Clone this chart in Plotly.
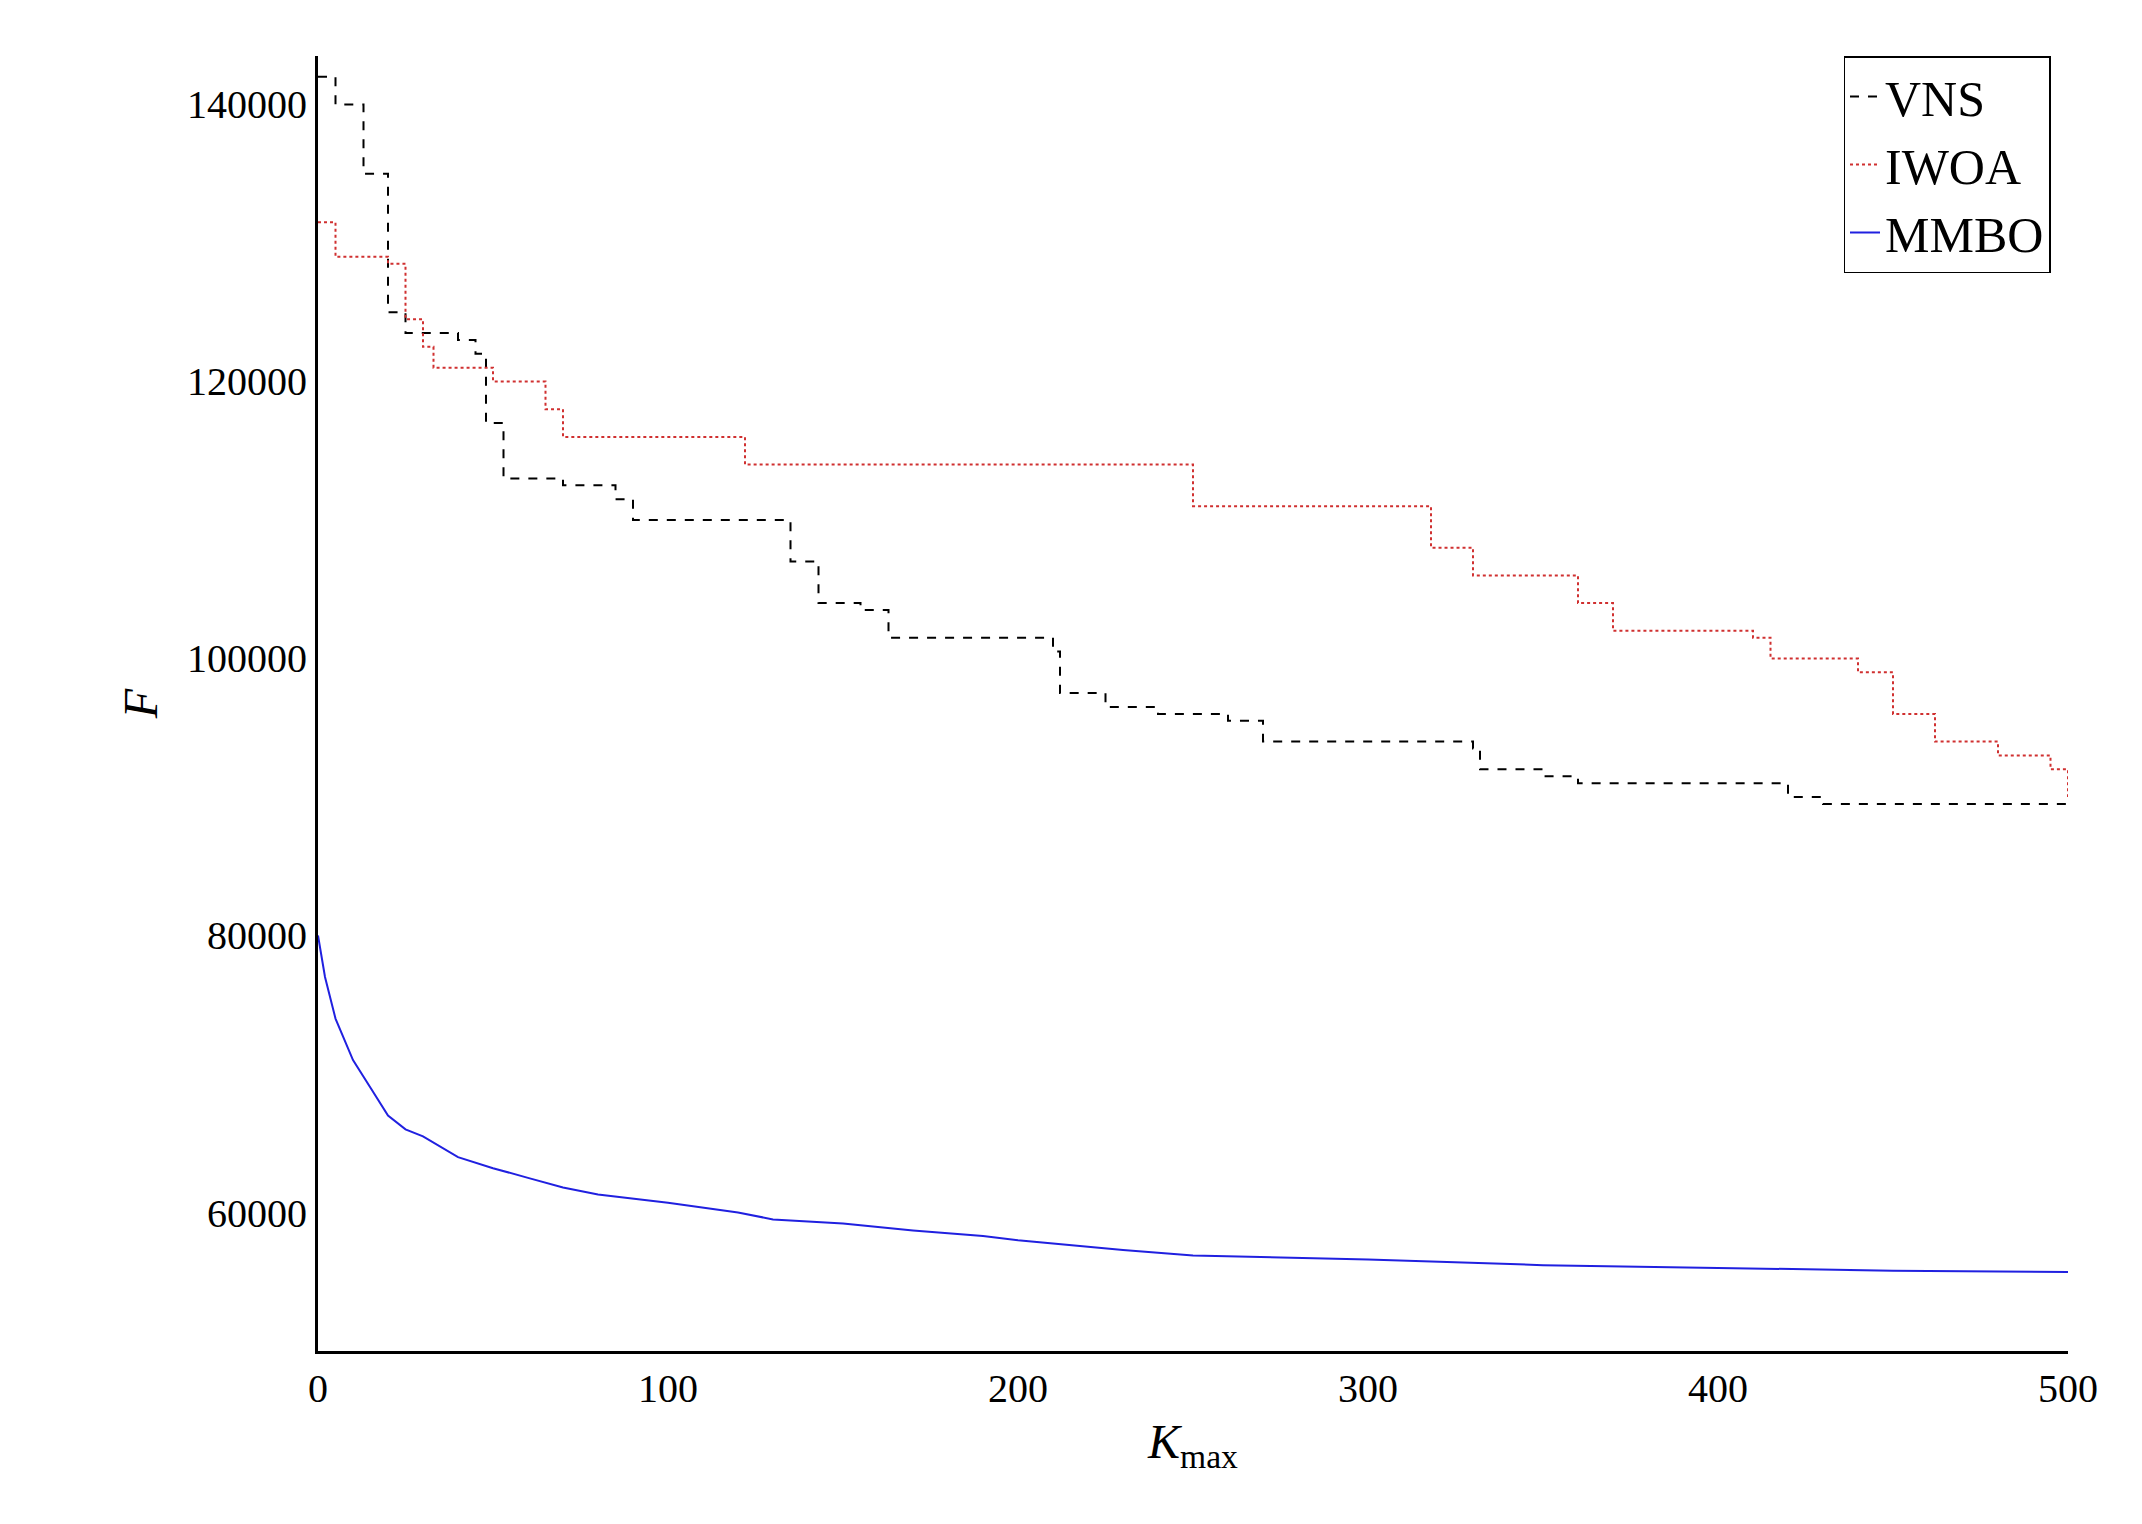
import plotly.graph_objects as go

# VNS (step curve)
vns_k = [0, 5, 13, 20, 25, 40, 45, 48, 53, 70, 85, 90, 130, 135, 143, 155, 163, 200, 210, 212,
         225, 240, 260, 270, 320, 330, 332, 350, 360, 415, 420, 430, 500]
vns_f = [142000, 140000, 135000, 125000, 123500, 123000, 122000, 117000, 113000, 112500, 111500,
         110000, 110000, 107000, 104000, 103500, 101500, 101500, 100500, 97500, 96500, 96000,
         95500, 94000, 94000, 93500, 92000, 91500, 91000, 91000, 90000, 89500, 89500]

# IWOA (step curve)
iwoa_k = [0, 5, 20, 25, 30, 33, 45, 50, 60, 65, 70, 120, 122, 247, 250, 315, 318, 330, 350, 360,
          370, 400, 410, 415, 435, 440, 450, 462, 480, 495, 500]
iwoa_f = [131500, 129000, 128500, 124500, 122500, 121000, 121000, 120000, 120000, 118000, 116000,
          116000, 114000, 114000, 111000, 111000, 108000, 106000, 106000, 104000, 102000, 102000,
          101500, 100000, 100000, 99000, 96000, 94000, 93000, 92000, 90000]

# MMBO
mmbo_k = [0, 2, 5, 10, 15, 20, 25, 30, 40, 50, 60, 70, 80, 100, 120, 130, 150, 170, 190, 200,
          230, 250, 300, 350, 400, 450, 500]
mmbo_f = [80000, 77000, 74000, 71000, 69000, 67000, 66000, 65500, 64000, 63200, 62500, 61800,
          61300, 60700, 60000, 59500, 59200, 58700, 58300, 58000, 57300, 56900, 56600, 56200,
          56000, 55800, 55700]

y_ticks = [60000, 80000, 100000, 120000, 140000]

fig = go.Figure()
fig.add_trace(go.Scatter(x=vns_k, y=vns_f, name="VNS", mode="lines", line_shape="hv",
                         line=dict(color="black", dash="dash", width=2)))
fig.add_trace(go.Scatter(x=iwoa_k, y=iwoa_f, name="IWOA", mode="lines", line_shape="hv",
                         line=dict(color="#d03030", dash="dot", width=2)))
fig.add_trace(go.Scatter(x=mmbo_k, y=mmbo_f, name="MMBO", mode="lines",
                         line=dict(color="#2020e0", width=2)))

fig.update_layout(
    width=2142, height=1524,
    paper_bgcolor="white", plot_bgcolor="white",
    margin=dict(l=310, r=82, t=48, b=181),
    font=dict(family="Liberation Serif", size=40, color="black"),
    legend=dict(x=0.99, y=1.0, xanchor="right", yanchor="top", bordercolor="black",
                borderwidth=1.5, font=dict(size=50), bgcolor="white"),
)
fig.update_xaxes(range=[0, 500], dtick=100, showgrid=False, zeroline=False,
                 showline=True, linecolor="black", linewidth=3, ticks="",
                 title=dict(text="<i>K</i><sub>max</sub>", font=dict(size=48)))
fig.update_yaxes(range=[50000, 143500], tickvals=y_ticks, ticktext=[str(v) for v in y_ticks],
                 showgrid=False, zeroline=False, showline=True, linecolor="black", linewidth=3,
                 ticks="", title=dict(text="<i>F</i>", font=dict(size=48)))

fig.write_html("out.html")
